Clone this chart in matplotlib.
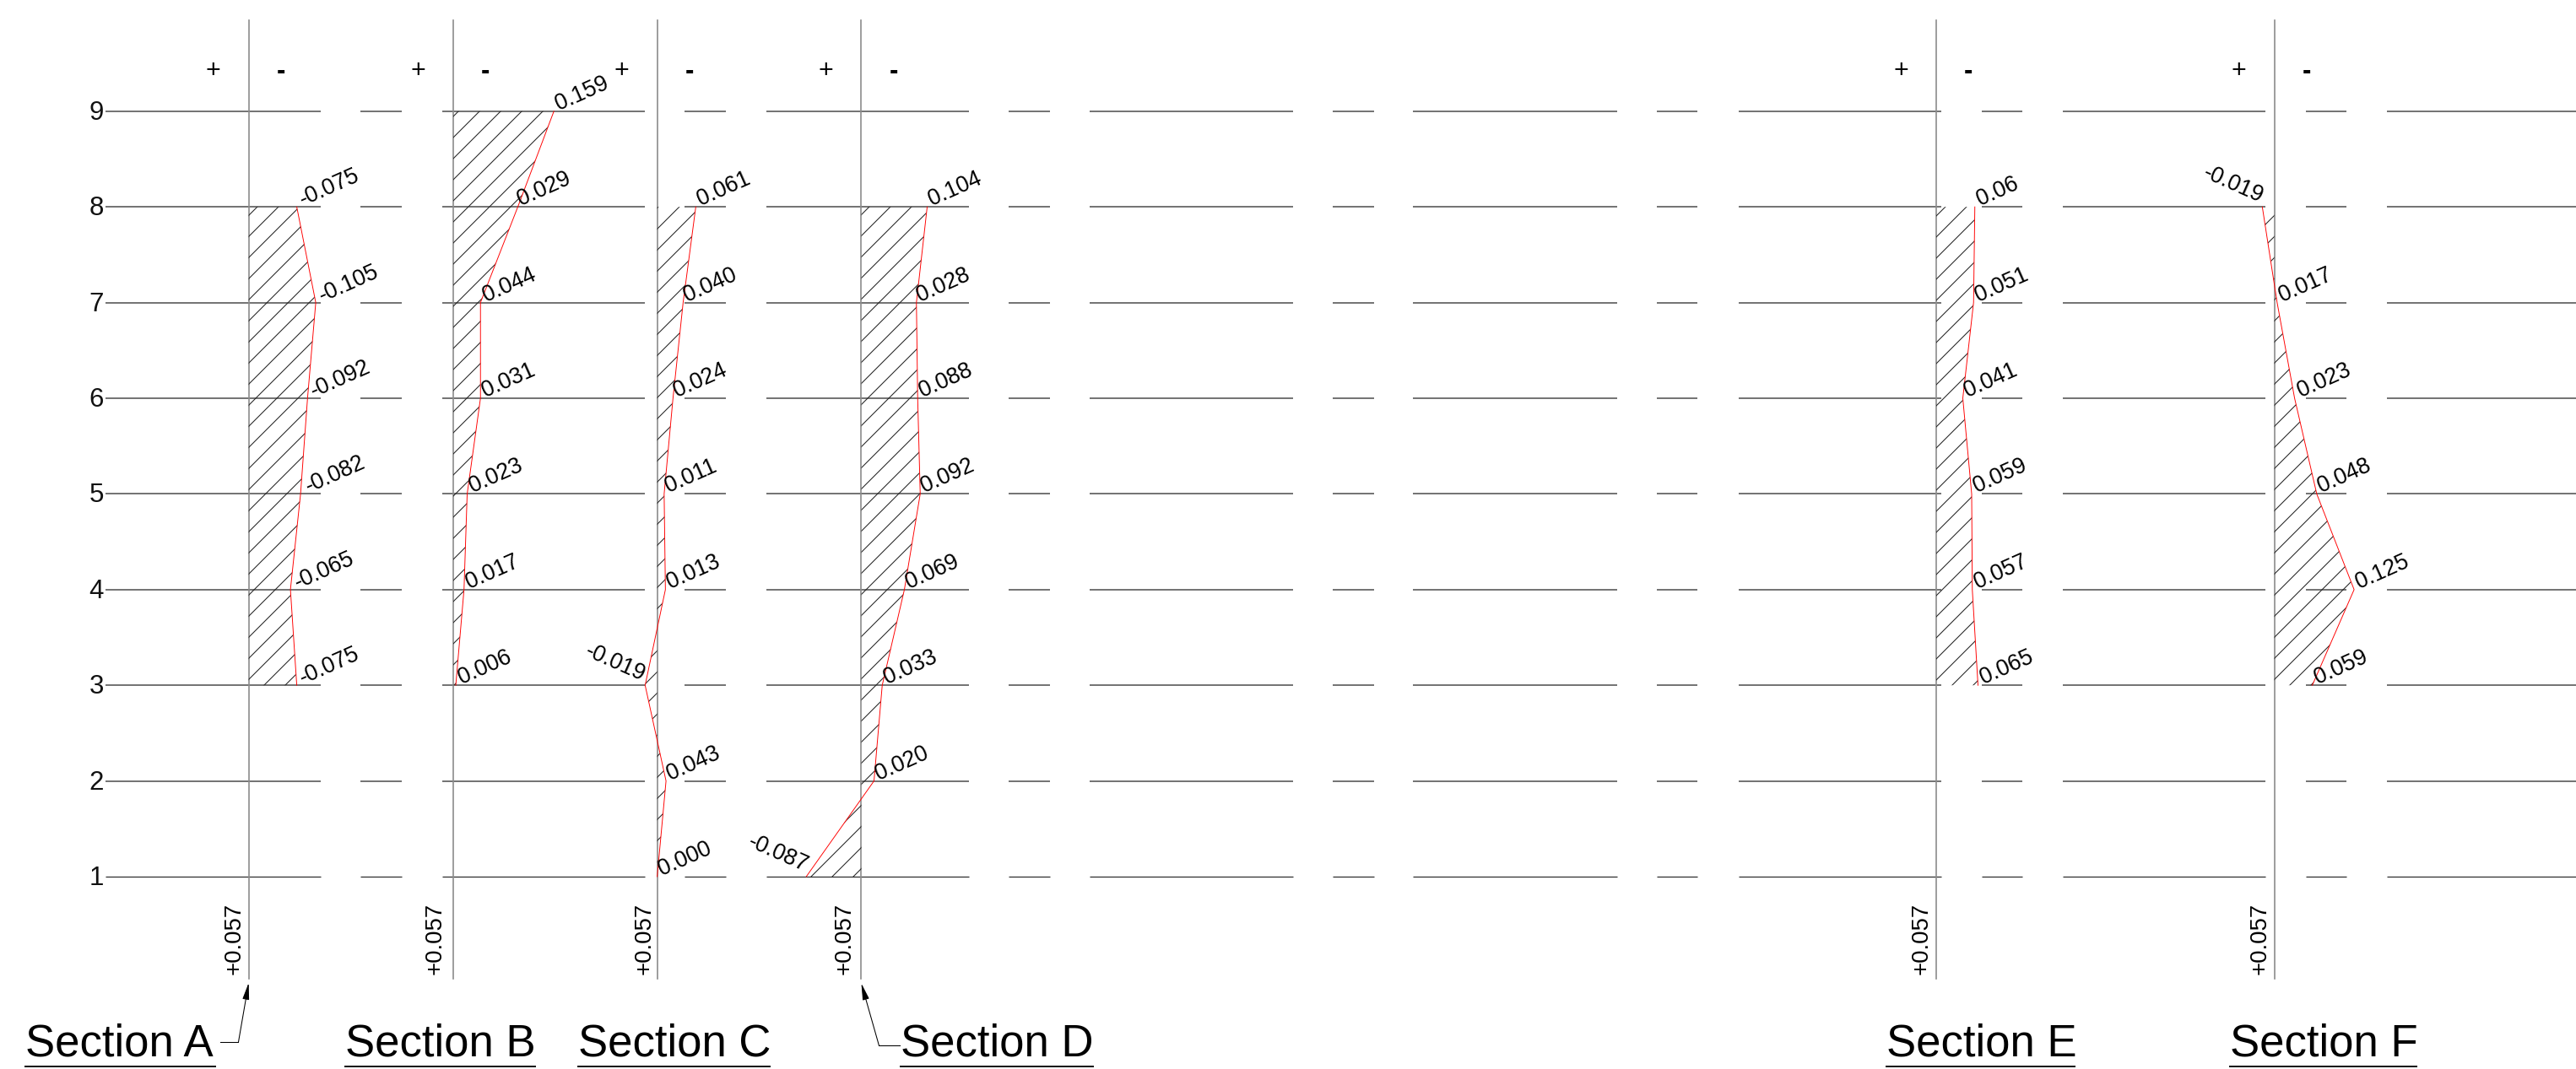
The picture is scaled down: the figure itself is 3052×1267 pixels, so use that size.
import matplotlib
matplotlib.use('Agg')
import matplotlib.pyplot as plt
from matplotlib.patches import Polygon

plt.rcParams['font.family'] = ['Liberation Sans', 'DejaVu Sans']
plt.rcParams['hatch.linewidth'] = 0.5

W, H, DPI = 3053, 1267, 150

# Storey levels
storeys = [1, 2, 3, 4, 5, 6, 7, 8, 9]
levels_a = [8, 7, 6, 5, 4, 3]
levels_b = [9, 8, 7, 6, 5, 4, 3]
levels_c = [8, 7, 6, 5, 4, 3, 2, 1]
levels_d = [8, 7, 6, 5, 4, 3, 2, 1]
levels_e = [8, 7, 6, 5, 4, 3]
levels_f = [8, 7, 6, 5, 4, 3]

# Drawn profile of each section, measured from its axis
defl_a = [0.076, 0.106, 0.093, 0.082, 0.066, 0.076]
defl_b = [0.159, 0.102, 0.043, 0.043, 0.022, 0.017, 0.004]
defl_c = [0.061, 0.041, 0.025, 0.011, 0.013, -0.019, 0.014, 0.0]
defl_d = [0.104, 0.087, 0.089, 0.093, 0.068, 0.033, 0.020, -0.087]
defl_e = [0.061, 0.059, 0.042, 0.056, 0.057, 0.066]
defl_f = [-0.019, 0.0044, 0.032, 0.067, 0.126, 0.060]

# Values printed next to the profile
text_a = ['-0.075', '-0.105', '-0.092', '-0.082', '-0.065', '-0.075']
text_b = ['0.159', '0.029', '0.044', '0.031', '0.023', '0.017', '0.006']
text_c = ['0.061', '0.040', '0.024', '0.011', '0.013', '-0.019', '0.043', '0.000']
text_d = ['0.104', '0.028', '0.088', '0.092', '0.069', '0.033', '0.020', '-0.087']
text_e = ['0.06', '0.051', '0.041', '0.059', '0.057', '0.065']
text_f = ['-0.019', '0.017', '0.023', '0.048', '0.125', '0.059']

section_names = ['Section A', 'Section B', 'Section C', 'Section D', 'Section E', 'Section F']
axis_label = '+0.057'

# Layout, in pixels of the final picture
axis_x = [294.6, 537, 778.6, 1020.5, 2294, 2694.6]
title_x = [(29, 256), (408, 634.6), (684, 912.6), (1066.5, 1296), (2233.7, 2459.5), (2640.7, 2864)]
axis_text_x = [278, 516, 763.5, 1001, 2277, 2677.5]
label_x_a = [357, 379.5, 370, 363.5, 351, 357]
label_x_b = [660, 615.4, 574, 572.7, 558, 553.6, 545]
label_x_c = [827.7, 812, 799.6, 789.7, 792, 761, 792, 781.7]
label_x_d = [1101.8, 1088.4, 1090.6, 1093.3, 1075.4, 1048.7, 1039.3, 953.6]
label_x_e = [2344, 2342.5, 2329.5, 2339.8, 2341.5, 2348]
label_x_f = [2677.7, 2702, 2724, 2748, 2793, 2744]
grid_spans = [(125, 380), (427, 476), (523.6, 764), (811, 860), (908, 1148), (1195.5, 1244),
              (1291.5, 1532), (1579, 1628), (1674, 1916), (1963, 2011), (2060, 2300),
              (2348, 2396), (2444, 2684), (2732, 2780), (2828, 3053)]
PX_PER_UNIT = 750
Y1, STOREY_H = 1039.0, 113.4


def py(s):
    return Y1 - (s - 1) * STOREY_H


fig = plt.figure(figsize=(W / DPI, H / DPI), dpi=DPI)
ax = fig.add_axes([0, 0, 1, 1])
ax.set_xlim(0, W)
ax.set_ylim(H, 0)
ax.axis('off')

# storey lines
for s in storeys:
    col = '#222222' if s == 1 else '#5a5a5a'
    lw = 0.55 if s == 1 else 0.8
    for x0, x1 in grid_spans:
        ax.plot([x0, x1], [py(s), py(s)], color=col, lw=lw, solid_capstyle='butt', zorder=1)
    ax.text(123, py(s) + 2, str(s), fontsize=15, ha='right', va='center', color='#111111')

sections = [
    (levels_a, defl_a, text_a, label_x_a),
    (levels_b, defl_b, text_b, label_x_b),
    (levels_c, defl_c, text_c, label_x_c),
    (levels_d, defl_d, text_d, label_x_d),
    (levels_e, defl_e, text_e, label_x_e),
    (levels_f, defl_f, text_f, label_x_f),
]

for i, (levels, defl, texts, label_x) in enumerate(sections):
    x0 = axis_x[i]
    ax.plot([x0, x0], [24, 1160], color='#8c8c8c', lw=0.8, zorder=2)
    ax.text(x0 - 42, 84, '+', fontsize=14.5, ha='center', va='center', color='black')
    ax.text(x0 + 38, 85, '-', fontsize=15, ha='center', va='center', color='black', fontweight='bold')
    ax.text(axis_text_x[i], 1155, axis_label, fontsize=13.2, rotation=90, ha='center', va='bottom', color='black')

    xs = [x0 + PX_PER_UNIT * d for d in defl]
    ys = [py(s) for s in levels]
    outline = list(zip(xs, ys)) + [(x0, ys[-1]), (x0, ys[0])]
    ax.add_patch(Polygon(outline, closed=True, fill=False, hatch='//', edgecolor='#222222', lw=0, zorder=3))
    ax.plot(xs, ys, color='red', lw=0.45, zorder=4)

    for s, t, lx in zip(levels, texts, label_x):
        neg_left = t.startswith('-') and i in (2, 3, 5)
        if neg_left:
            ax.text(lx, py(s) - 5, t, fontsize=12.8, rotation=-24, rotation_mode='anchor',
                    ha='right', va='baseline', color='black', zorder=5)
        else:
            ax.text(lx + 2, py(s) - 1, t, fontsize=12.8, rotation=24, rotation_mode='anchor',
                    ha='left', va='baseline', color='black', zorder=5)

    # section title, underlined
    tx0, tx1 = title_x[i]
    ax.text(tx0 + 1, 1252, section_names[i], fontsize=25.3, ha='left', va='baseline', color='black')
    ax.plot([tx0, tx1], [1264, 1264], color='black', lw=0.9, solid_capstyle='butt')

# leaders from the titles to sections A and D
ax.annotate('', xy=(294.6, 1165), xytext=(282.5, 1235),
            arrowprops=dict(arrowstyle='-|>,head_length=0.8,head_width=0.16', color='black', lw=0.5,
                            shrinkA=0, shrinkB=0))
ax.plot([261.5, 282.5], [1235, 1235], color='black', lw=0.5)
ax.annotate('', xy=(1020.5, 1165.5), xytext=(1041.5, 1239.4),
            arrowprops=dict(arrowstyle='-|>,head_length=0.8,head_width=0.16', color='black', lw=0.5,
                            shrinkA=0, shrinkB=0))
ax.plot([1041.5, 1066], [1239.4, 1239.4], color='black', lw=0.5)

fig.savefig('out.png', dpi=DPI)
